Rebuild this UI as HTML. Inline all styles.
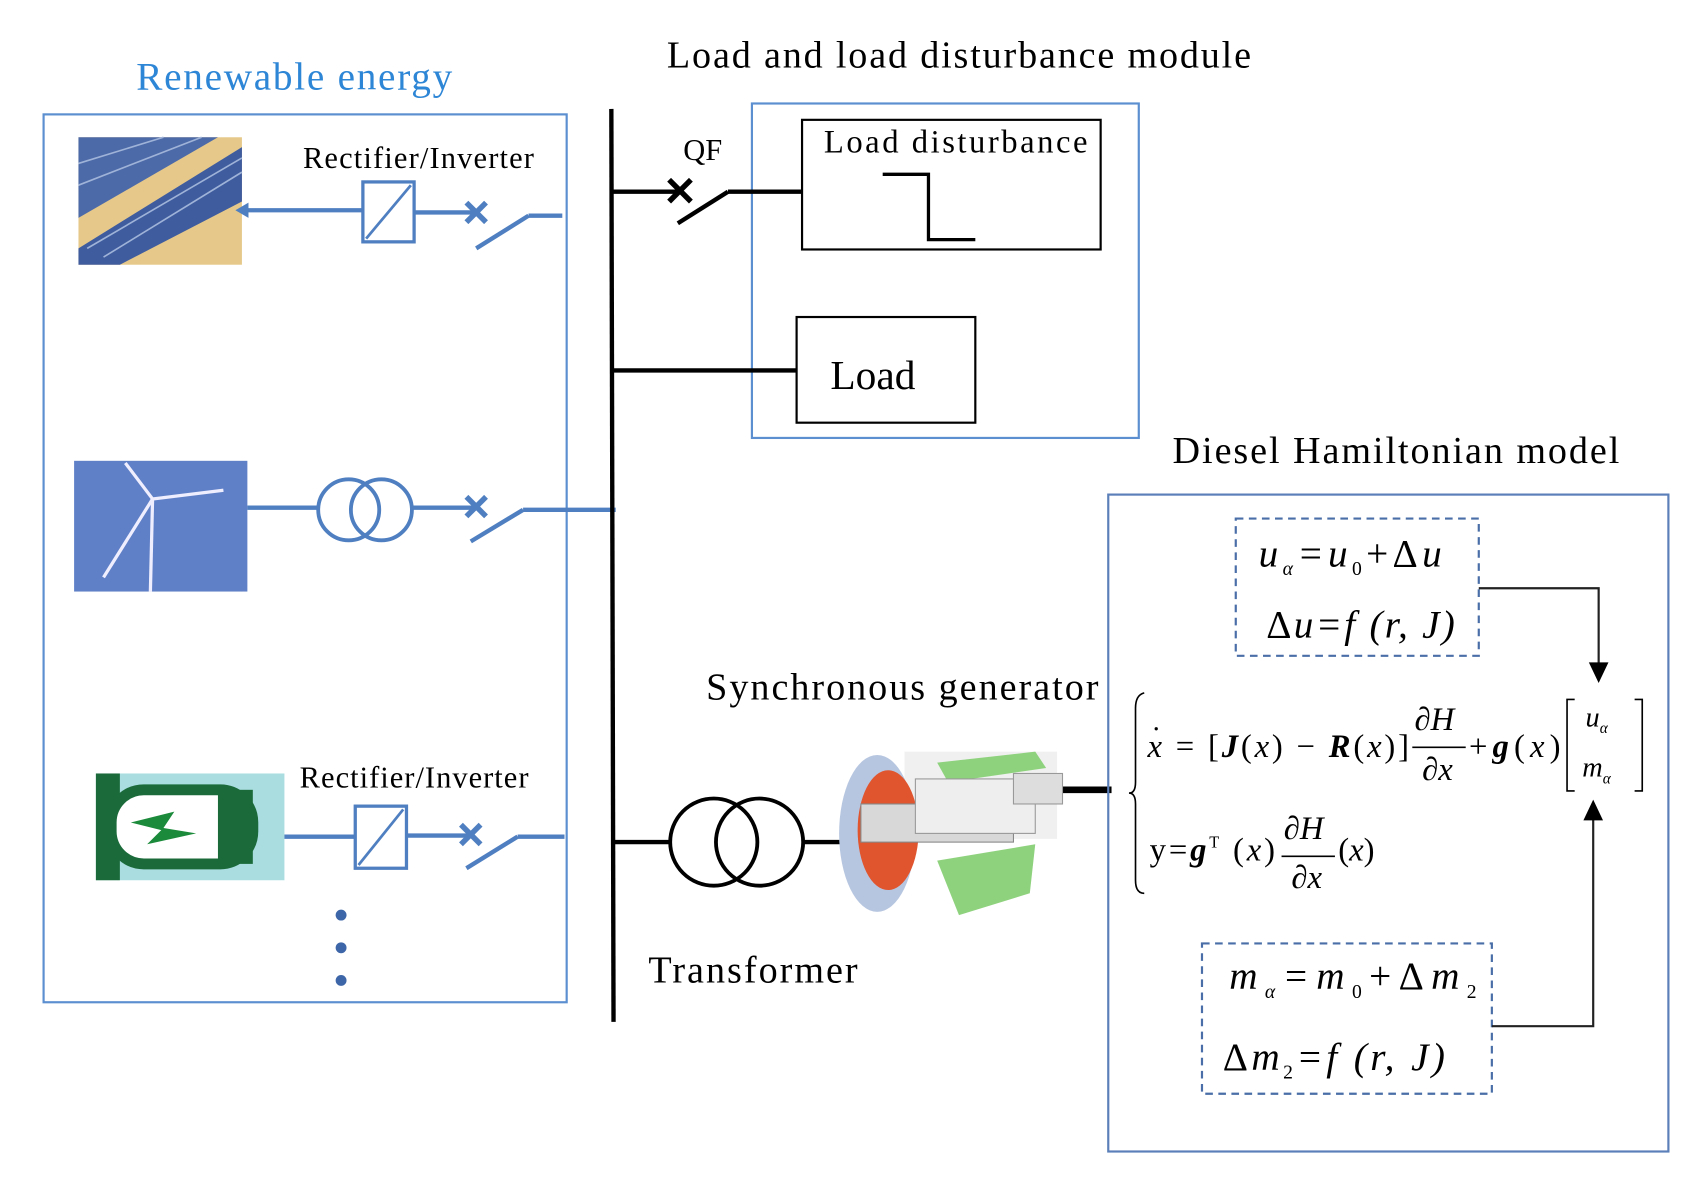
<!DOCTYPE html>
<html><head><meta charset="utf-8"><style>html,body{margin:0;padding:0;background:#fff}svg{display:block}</style></head>
<body>
<svg width="1700" height="1182" viewBox="0 0 1560 1085" preserveAspectRatio="none" xmlns="http://www.w3.org/2000/svg" font-family="Liberation Serif, serif">
<rect width="1560" height="1085" fill="#fff"/>
<text x="125" y="82" font-size="36" fill="#2e86d6" textLength="290">Renewable energy</text>
<text x="612" y="62" font-size="35" fill="#000" textLength="536">Load and load disturbance module</text>
<text x="1076" y="425" font-size="35" fill="#000" textLength="410">Diesel Hamiltonian model</text>
<text x="648" y="642" font-size="35" fill="#000" textLength="360">Synchronous generator</text>
<text x="595" y="902" font-size="35" fill="#000" textLength="192">Transformer</text>
<rect x="40" y="105" width="480" height="815" fill="none" stroke="#5b8fd0" stroke-width="2"/>
<!-- solar image -->
<rect x="72" y="126" width="150" height="117" fill="#e6c98a"/>
<polygon points="72,126 200,126 72,200" fill="#4d6aa8"/>
<polygon points="72,228 222,135 222,185 110,243 72,243" fill="#3f5c9e"/>
<g stroke="#9fb3d8" stroke-width="1.5"><line x1="72" y1="150" x2="150" y2="126"/><line x1="72" y1="170" x2="185" y2="126"/><line x1="95" y1="236" x2="222" y2="158"/><line x1="80" y1="228" x2="222" y2="145"/></g>
<!-- wind image -->
<rect x="68" y="423" width="159" height="120" fill="#5f7fc6"/>
<g stroke="#eef" stroke-width="3"><line x1="140" y1="458" x2="138" y2="543"/><line x1="140" y1="458" x2="115" y2="425"/><line x1="140" y1="458" x2="205" y2="450"/><line x1="140" y1="458" x2="95" y2="530"/></g>
<!-- battery image -->
<rect x="88" y="710" width="173" height="98" fill="#a9dde0"/>
<rect x="88" y="710" width="22" height="98" fill="#1b6b3a"/>
<rect x="102" y="725" width="130" height="68" rx="30" fill="#fff" stroke="#1b6b3a" stroke-width="10"/>
<rect x="200" y="725" width="32" height="68" fill="#1b6b3a"/>
<polygon points="120,755 160,745 150,760 180,765 135,775 148,762" fill="#1b8a3a"/>
<g stroke="#4f7fc0" stroke-width="4" fill="none">
<line x1="222" y1="193" x2="333" y2="193"/>
<rect x="333" y="167" width="47" height="55" stroke-width="3"/>
<line x1="336" y1="219" x2="377" y2="170" stroke-width="2.5"/>
<line x1="380" y1="195" x2="437" y2="195"/>
<line x1="428" y1="186" x2="446" y2="204" stroke-width="5"/><line x1="446" y1="186" x2="428" y2="204" stroke-width="5"/>
<line x1="437" y1="228" x2="485" y2="198"/><line x1="485" y1="198" x2="516" y2="198"/>
<line x1="227" y1="466" x2="292" y2="466"/>
<circle cx="320" cy="468" r="28" stroke-width="3.5"/><circle cx="350" cy="468" r="28" stroke-width="3.5"/>
<line x1="378" y1="466" x2="437" y2="466"/>
<line x1="428" y1="456" x2="446" y2="474" stroke-width="5"/><line x1="446" y1="456" x2="428" y2="474" stroke-width="5"/>
<line x1="432" y1="497" x2="480" y2="468"/><line x1="480" y1="468" x2="565" y2="468"/>
<line x1="261" y1="768" x2="326" y2="768"/>
<rect x="326" y="740" width="47" height="57" stroke-width="3"/>
<line x1="329" y1="794" x2="370" y2="743" stroke-width="2.5"/>
<line x1="373" y1="767" x2="432" y2="767"/>
<line x1="423" y1="757" x2="441" y2="775" stroke-width="5"/><line x1="441" y1="757" x2="423" y2="775" stroke-width="5"/>
<line x1="428" y1="797" x2="475" y2="768"/><line x1="475" y1="768" x2="518" y2="768"/>
</g>
<polygon points="216,193 228,186 228,200" fill="#4f7fc0"/>
<g fill="#3d66a8"><circle cx="313" cy="840" r="5"/><circle cx="313" cy="870" r="5"/><circle cx="313" cy="900" r="5"/></g>
<text x="278" y="154" font-size="28" textLength="212">Rectifier/Inverter</text>
<text x="275" y="723" font-size="28" textLength="210">Rectifier/Inverter</text>
<line x1="561" y1="100" x2="563" y2="938" stroke="#000" stroke-width="4"/>
<rect x="690" y="95" width="355" height="307" fill="none" stroke="#5b8fd0" stroke-width="2"/>
<text x="627" y="147" font-size="28">QF</text>
<g stroke="#000" stroke-width="4" fill="none">
<line x1="562" y1="176" x2="624" y2="176"/>
<line x1="614" y1="165" x2="634" y2="185" stroke-width="5"/><line x1="634" y1="165" x2="614" y2="185" stroke-width="5"/>
<line x1="622" y1="205" x2="668" y2="176"/><line x1="668" y1="176" x2="736" y2="176"/>
<line x1="562" y1="340" x2="731" y2="340"/>
<polyline points="810,160 852,160 852,220 895,220" stroke-width="3"/>
<line x1="562" y1="773" x2="615" y2="773"/>
<circle cx="655" cy="773" r="40" stroke-width="3.5"/><circle cx="697" cy="773" r="40" stroke-width="3.5"/>
<line x1="737" y1="773" x2="775" y2="773"/>
<line x1="975" y1="725" x2="1020" y2="725" stroke-width="6"/>
</g>
<rect x="736" y="110" width="274" height="119" fill="none" stroke="#000" stroke-width="2"/>
<text x="756" y="140" font-size="30" textLength="242">Load disturbance</text>
<rect x="731" y="291" width="164" height="97" fill="none" stroke="#000" stroke-width="2"/>
<text x="762" y="357" font-size="38">Load</text>
<g>
<rect x="830" y="690" width="140" height="80" fill="#f0f0f0"/>
<polygon points="860,700 950,690 960,705 870,718" fill="#8fd27e"/>
<ellipse cx="805" cy="765" rx="35" ry="72" fill="#b7c6e0"/>
<ellipse cx="815" cy="762" rx="28" ry="55" fill="#e0542e"/>
<rect x="790" y="738" width="140" height="35" fill="#d8d8d8" stroke="#888"/>
<rect x="840" y="715" width="110" height="50" fill="#eee" stroke="#999"/>
<path d="M860,790 L950,775 L945,820 L880,840 Z" fill="#8fd27e"/>
<rect x="930" y="710" width="45" height="28" fill="#ddd" stroke="#999"/>
</g>
<rect x="1017" y="454" width="514" height="603" fill="none" stroke="#5b7fb8" stroke-width="2"/>
<rect x="1134" y="476" width="223" height="126" fill="none" stroke="#4a6fa8" stroke-width="2" stroke-dasharray="7,5"/>
<rect x="1103" y="866" width="266" height="138" fill="none" stroke="#4a6fa8" stroke-width="2" stroke-dasharray="7,5"/>
<g stroke="#222" stroke-width="2" fill="none">
<polyline points="1357,540 1467,540 1467,615"/>
<polyline points="1369,942 1462,942 1462,745"/>
</g>
<polygon points="1467,627 1458,608 1476,608" fill="#000"/>
<polygon points="1462,734 1453,753 1471,753" fill="#000"/>
<g font-style="italic" font-size="36" fill="#000">
<text x="1155" y="520" textLength="168">u<tspan font-size="18" dy="8">α</tspan><tspan dy="-8">=u</tspan><tspan font-size="18" dy="8" font-style="normal">0</tspan><tspan dy="-8" font-style="normal">+Δ</tspan>u</text>
<text x="1162" y="585" textLength="173"><tspan font-style="normal">Δ</tspan>u=f (r, J)</text>
<text x="1128" y="908" textLength="227">m<tspan font-size="18" dy="8">α</tspan><tspan dy="-8">=m</tspan><tspan font-size="18" dy="8" font-style="normal">0</tspan><tspan dy="-8" font-style="normal">+Δ</tspan>m<tspan font-size="18" dy="8" font-style="normal">2</tspan></text>
<text x="1122" y="982" textLength="204"><tspan font-style="normal">Δ</tspan>m<tspan font-size="18" dy="8" font-style="normal">2</tspan><tspan dy="-8">=f (r, J)</tspan></text>
</g>
<path d="M1050,636 Q1042,638 1042,650 L1042,718 Q1042,728 1036,728 Q1042,728 1042,738 L1042,808 Q1042,820 1050,820" fill="none" stroke="#000" stroke-width="1.5"/>
<g font-size="30" fill="#000">
<text x="1053" y="695" textLength="240"><tspan font-style="italic">x</tspan> = [<tspan font-style="italic" font-weight="bold">J</tspan>(<tspan font-style="italic">x</tspan>) − <tspan font-style="italic" font-weight="bold">R</tspan>(<tspan font-style="italic">x</tspan>)]</text>
<text x="1298" y="670" font-style="italic">∂H</text>
<line x1="1296" y1="686" x2="1345" y2="686" stroke="#000" stroke-width="1.5"/>
<text x="1305" y="716" font-style="italic">∂x</text>
<text x="1348" y="695" textLength="84">+<tspan font-weight="bold" font-style="italic">g</tspan>(<tspan font-style="italic">x</tspan>)</text>
<path d="M1445,642 L1438,642 L1438,726 L1445,726 M1500,642 L1507,642 L1507,726 L1500,726" fill="none" stroke="#000" stroke-width="1.5"/>
<text x="1455" y="667" font-style="italic" font-size="26">u<tspan font-size="14" dy="6">α</tspan></text>
<text x="1452" y="713" font-style="italic" font-size="26">m<tspan font-size="14" dy="6">α</tspan></text>
<text x="1055" y="790" textLength="115">y=<tspan font-weight="bold" font-style="italic">g</tspan><tspan font-size="15" dy="-12">T</tspan><tspan dy="12"> (<tspan font-style="italic">x</tspan>)</tspan></text>
<text x="1178" y="770" font-style="italic">∂H</text>
<line x1="1176" y1="786" x2="1225" y2="786" stroke="#000" stroke-width="1.5"/>
<text x="1185" y="815" font-style="italic">∂x</text>
<text x="1228" y="790">(<tspan font-style="italic">x</tspan>)</text>
</g>
<circle cx="1061" cy="669" r="1.5" fill="#000"/>
</svg>
</body></html>
